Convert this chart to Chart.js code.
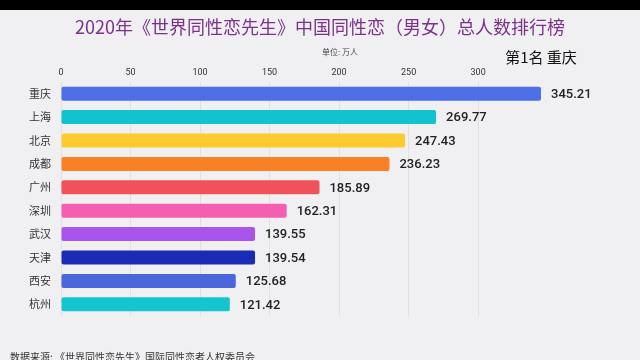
<!DOCTYPE html>
<html><head><meta charset="utf-8">
<script src="https://cdn.jsdelivr.net/npm/chart.js@4"></script>
<style>html,body{margin:0;padding:0;background:#f0eff1;}#wrap{width:640px;height:360px;position:relative;}</style>
</head><body><div id="wrap"><canvas id="c" width="640" height="360"></canvas></div>
<script>
const cities = ["重庆","上海","北京","成都","广州","深圳","武汉","天津","西安","杭州"];
const values = [345.21,269.77,247.43,236.23,185.89,162.31,139.55,139.54,125.68,121.42];
const barColors = ["#4c6ee6","#10c3cf","#fecb2e","#f98026","#ef5259","#f55fb2","#a755ea","#1a2bb5","#4b66dc","#14c5d1"];
const tickStep = 50;
const titleText = "2020年《世界同性恋先生》中国同性恋（男女）总人数排行榜";
const unitText = "单位: 万人";
const rankText = "第1名 重庆";
const sourceText = "数据来源: 《世界同性恋先生》国际同性恋者人权委员会";

const deco = {
  id:'deco',
  beforeDraw(chart){
    const ctx = chart.ctx;
    ctx.save();
    ctx.fillStyle = '#f0eff1';
    ctx.fillRect(0,0,640,360);
    ctx.fillStyle = '#000';
    ctx.fillRect(0,0,640,10);
    ctx.restore();
  },
  afterDraw(chart){
    const ctx = chart.ctx;
    ctx.save();
    ctx.textBaseline = 'middle';
    ctx.textAlign = 'center';
    ctx.fillStyle = '#7a3289';
    ctx.font = '18px "Noto Sans CJK SC"';
    ctx.fillText(titleText, 320, 27);
    ctx.fillStyle = '#444';
    ctx.font = '8px "Noto Sans CJK SC"';
    ctx.fillText(unitText, 340, 52);
    ctx.fillStyle = '#111';
    ctx.font = '15px "Noto Sans CJK SC"';
    ctx.fillText(rankText, 541, 57);
    ctx.textAlign = 'left';
    ctx.fillStyle = '#333';
    ctx.font = '10px "Noto Sans CJK SC"';
    ctx.fillText(sourceText, 10, 357);
    // value labels
    const meta = chart.getDatasetMeta(0);
    ctx.fillStyle = '#222';
    ctx.font = '500 13px Roboto';
    meta.data.forEach((bar,i)=>{
      ctx.fillText(values[i].toFixed(2), bar.x + 10, bar.y + 1);
    });
    ctx.restore();
  }
};

new Chart(document.getElementById('c'), {
  type:'bar',
  data:{labels:cities, datasets:[{data:values, backgroundColor:barColors, borderRadius:2, borderSkipped:false, barPercentage:0.6, categoryPercentage:1}]},
  options:{
    indexAxis:'y', responsive:false, animation:false,
    layout:{padding:{top:62,right:99,bottom:44,left:0}},
    plugins:{legend:{display:false}, tooltip:{enabled:false}},
    scales:{
      x:{position:'top', min:0, max:values[0],
        afterFit(s){s.height=20;},
        afterBuildTicks(s){s.ticks = s.ticks.filter(t=>t.value % tickStep === 0);},
        ticks:{stepSize:tickStep, color:'#333', padding:4, font:{size:9, family:'Roboto'}},
        grid:{color:'#e0dfe2', drawTicks:false},
        border:{display:false}
      },
      y:{afterFit(s){s.width=61;},
        ticks:{color:'#333', padding:10, font:{size:11, family:'"Noto Sans CJK SC"'}},
        grid:{display:false, drawTicks:false}, border:{display:false}
      }
    }
  },
  plugins:[deco]
});
</script></body></html>
